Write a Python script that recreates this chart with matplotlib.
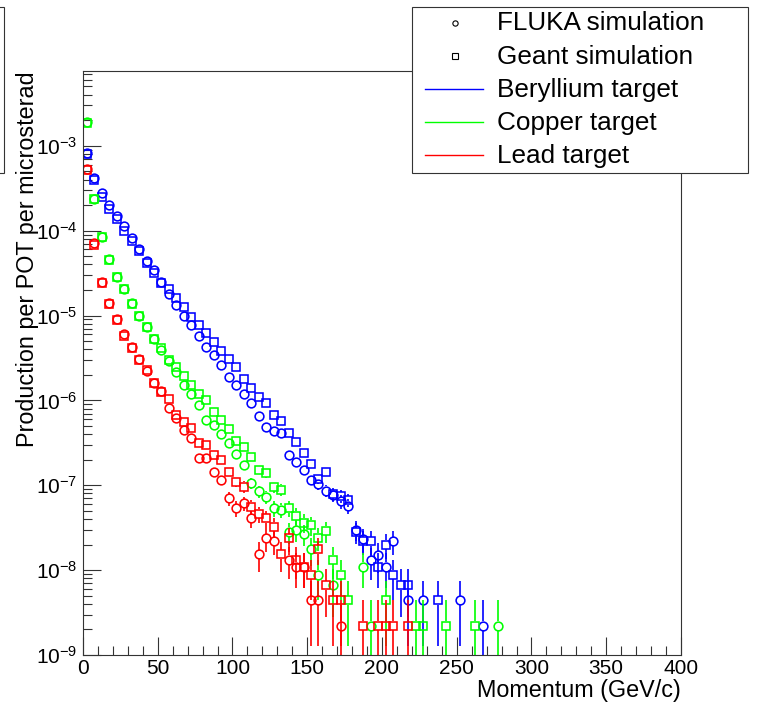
import numpy as np
import matplotlib
matplotlib.use("Agg")
import matplotlib.pyplot as plt
from matplotlib.lines import Line2D
from matplotlib.patches import Rectangle
from matplotlib.ticker import MultipleLocator, LogLocator, NullFormatter, FixedLocator

plt.rcParams["font.family"] = ["Liberation Sans", "DejaVu Sans"]
plt.rcParams["mathtext.fontset"] = "custom"
plt.rcParams["mathtext.rm"] = "Liberation Sans"
plt.rcParams["mathtext.it"] = "Liberation Sans:italic"
plt.rcParams["mathtext.default"] = "regular"

# 5 GeV/c bins, centres 2.5 ... 277.5
bin_width = 5
momentum = np.arange(bin_width / 2, 280, bin_width)

# production per POT per microsterad (None = empty bin)
be_fluka = [8.3e-4, 4.2e-4, 2.8e-4, 2.0e-4, 1.5e-4, 1.12e-4, 8.2e-5, 6.1e-5, 4.4e-5, 3.4e-5,
            2.5e-5, 1.8e-5, 1.34e-5, 1.0e-5, 7.7e-6, 5.8e-6, 4.2e-6, 3.4e-6, 2.6e-6, 1.9e-6,
            1.5e-6, 1.2e-6, 9.2e-7, 6.6e-7, 4.8e-7, 4.3e-7, 4.1e-7, 2.3e-7, 1.9e-7, 1.5e-7,
            1.16e-7, 1.04e-7, 8.6e-8, 7.7e-8, 6.5e-8, 5.7e-8, 3.0e-8, 2.3e-8, 1.3e-8, 1.5e-8,
            1.1e-8, 2.2e-8, None, 4.4e-9, None, 4.4e-9, None, None, None, None,
            4.4e-9, None, None, 2.2e-9, None, None]
be_geant = [8.0e-4, 3.9e-4, 2.5e-4, 1.8e-4, 1.38e-4, 1.0e-4, 7.5e-5, 5.7e-5, 4.2e-5, 3.2e-5,
            2.4e-5, 2.06e-5, 1.6e-5, 1.26e-5, 9.6e-6, 7.8e-6, 6.2e-6, 4.9e-6, 3.8e-6, 3.1e-6,
            2.5e-6, 1.8e-6, 1.4e-6, 1.1e-6, 9.3e-7, 6.8e-7, 5.7e-7, 4.1e-7, 3.2e-7, 2.4e-7,
            1.8e-7, 1.2e-7, 1.45e-7, 7.9e-8, 7.4e-8, 6.7e-8, 2.8e-8, 2.2e-8, 2.2e-8, 1.1e-8,
            2.0e-8, 8.8e-9, 6.6e-9, 6.6e-9, None, None, None, 4.4e-9, None, None,
            None, None, None, None, None, None]
cu_fluka = [1.89e-3, 2.37e-4, 8.4e-5, 4.6e-5, 2.86e-5, 2.06e-5, 1.39e-5, 9.8e-6, 7.25e-6, 5.26e-6,
            3.94e-6, 2.92e-6, 2.17e-6, 1.5e-6, 1.2e-6, 8.9e-7, 5.8e-7, 5.1e-7, 4.06e-7, 3.13e-7,
            2.34e-7, 1.74e-7, 1.05e-7, 8.5e-8, 7.35e-8, 5.36e-8, 5.16e-8, 2.84e-8, 2.97e-8, 2.67e-8,
            1.75e-8, 8.8e-9, None, 6.6e-9, None, None, None, 1.1e-8, 2.2e-9, None,
            None, None, None, None, None, None, None, None, None, None,
            None, None, None, None, None, 2.2e-9]
cu_geant = [1.84e-3, 2.34e-4, 8.4e-5, 4.53e-5, 2.86e-5, 2.06e-5, 1.37e-5, 9.9e-6, 7.35e-6, 5.26e-6,
            4.16e-6, 3.0e-6, 2.46e-6, 1.95e-6, 1.5e-6, 1.18e-6, 1.01e-6, 7.2e-7, 5.9e-7, 4.57e-7,
            3.31e-7, 2.83e-7, 2.17e-7, 1.5e-7, 1.41e-7, 9.6e-8, 8.9e-8, 5.36e-8, 4.35e-8, 3.63e-8,
            3.41e-8, 2.42e-8, 2.9e-8, 1.32e-8, 8.8e-9, 4.4e-9, None, None, None, None,
            4.4e-9, None, None, None, 2.2e-9, 2.2e-9, None, None, 2.2e-9, None,
            None, None, 2.2e-9, None, None, None]
pb_fluka = [5.36e-4, 7.1e-5, 2.49e-5, 1.41e-5, 9.0e-6, 6.0e-6, 4.21e-6, 3.06e-6, 2.23e-6, 1.59e-6,
            1.29e-6, 8.1e-7, 6.2e-7, 4.5e-7, 3.58e-7, 2.08e-7, 2.08e-7, 1.45e-7, 1.16e-7, 7.0e-8,
            5.36e-8, 6.14e-8, 4.08e-8, 1.54e-8, 2.38e-8, 2.2e-8, None, 1.32e-8, 1.1e-8, 1.1e-8,
            4.4e-9, 4.4e-9, None, None, 2.2e-9, None, None, None, None, None,
            None, None, None, None, None, None, None, None, None, None,
            None, None, None, None, None, None]
pb_geant = [5.21e-4, 6.8e-5, 2.39e-5, 1.35e-5, 8.8e-6, 5.76e-6, 4.1e-6, 3.0e-6, 2.29e-6, 1.6e-6,
            1.24e-6, 1.03e-6, 6.75e-7, 5.62e-7, 4.7e-7, 3.13e-7, 2.99e-7, 2.28e-7, 1.99e-7, 1.45e-7,
            1.1e-7, 9.64e-8, 5.6e-8, 4.59e-8, 4.08e-8, 3.25e-8, 1.54e-8, 2.38e-8, 1.32e-8, 1.1e-8,
            8.8e-9, 1.76e-8, 6.6e-9, 4.4e-9, 4.4e-9, None, None, 2.2e-9, None, 2.2e-9,
            2.2e-9, 2.2e-9, None, 2.2e-9, None, None, None, None, None, None,
            None, None, None, None, None, None]

# weight of one simulated event (smallest non-empty bin)
event_weight = 2.2e-9

targets = ["Beryllium target", "Copper target", "Lead target"]
colors = ["#0000ff", "#00ff00", "#ff0000"]
fluka = [be_fluka, cu_fluka, pb_fluka]
geant = [be_geant, cu_geant, pb_geant]
sim_labels = ["FLUKA simulation", "Geant simulation"]
y_decades = [1e-9, 1e-8, 1e-7, 1e-6, 1e-5, 1e-4, 1e-3]

W, H = 760, 708
fig = plt.figure(figsize=(W / 100, H / 100), dpi=100)


def fx(px):
    return px / W


def fy(py):
    return 1 - py / H


ax = fig.add_axes([fx(83), fy(655), fx(681) - fx(83), fy(71) - fy(655)])
ax.set_yscale("log")
ax.set_xlim(0, 400)
ax.set_ylim(1e-9, 7.6e-3)

px_per_decade = (655 - 71) / np.log10(7.6e-3 / 1e-9)
gap = 10 ** (4.5 / px_per_decade)  # keep bars outside the marker, ROOT style


def draw_points(values, marker, color):
    y = np.array(values, dtype=float)
    ok = ~np.isnan(y)
    x, y = momentum[ok], y[ok]
    err = np.sqrt(y * event_weight)
    hi = y + err
    lo = np.maximum(y - err, 1e-12)
    up = hi > y * gap
    dn = lo < y / gap
    ax.vlines(x[up], (y * gap)[up], hi[up], colors=color, lw=1.2)
    ax.vlines(x[dn], lo[dn], (y / gap)[dn], colors=color, lw=1.2)
    ax.plot(x, y, ls="none", marker=marker, ms=6.3, mfc="none",
            mec=color, mew=1.15)


for f, g, c in zip(fluka, geant, colors):
    draw_points(f, "o", c)
    draw_points(g, "s", c)

ax.xaxis.set_major_locator(MultipleLocator(50))
ax.xaxis.set_minor_locator(MultipleLocator(10))
ax.yaxis.set_major_locator(FixedLocator(y_decades))
ax.yaxis.set_minor_locator(LogLocator(base=10, subs=np.arange(2, 10), numticks=20))
ax.yaxis.set_minor_formatter(NullFormatter())
ax.tick_params(which="both", direction="in", top=False, right=False,
               color="#333333", width=0.8, labelsize=15)
ax.tick_params(which="major", length=13)
ax.tick_params(which="minor", length=6.5)
ax.tick_params(axis="x", pad=3)
ax.tick_params(axis="y", pad=4)
for s in ax.spines.values():
    s.set_color("#333333")
    s.set_linewidth(0.8)

fig.text(fx(28), fy(71), "Production per POT per microsterad", rotation=90,
         ha="center", va="top", fontsize=16.8)
fig.text(fx(681), fy(690), "Momentum (GeV/c)", ha="right", va="center", fontsize=16.8)

# legend box (drawn by hand to match the ROOT layout)
fig.add_artist(Rectangle((fx(412), fy(173)), fx(748) - fx(412), fy(7) - fy(173),
                         transform=fig.transFigure, facecolor="white",
                         edgecolor="#333333", lw=0.8))
# edge of another box, cut off at the left
fig.add_artist(Rectangle((fx(-60), fy(173)), fx(4) - fx(-60), fy(7) - fy(173),
                         transform=fig.transFigure, facecolor="none",
                         edgecolor="#333333", lw=0.8))

rows = [22.5, 55.5, 88.5, 122, 155]
for i, (m, lab) in enumerate(zip(["o", "s"], sim_labels)):
    fig.add_artist(Line2D([fx(454.5)], [fy(rows[i])], transform=fig.transFigure,
                          ls="none", marker=m, ms=3.8, mfc="none", mec="black", mew=0.8))
    fig.text(fx(497), fy(rows[i] + 8), lab, fontsize=18.8, va="baseline")
for j, (lab, c) in enumerate(zip(targets, colors)):
    r = rows[j + 2]
    fig.add_artist(Line2D([fx(425), fx(483)], [fy(r), fy(r)], transform=fig.transFigure,
                          color=c, lw=1.0))
    fig.text(fx(497), fy(r + 8), lab, fontsize=18.8, va="baseline")

fig.savefig("out.png", dpi=100)
